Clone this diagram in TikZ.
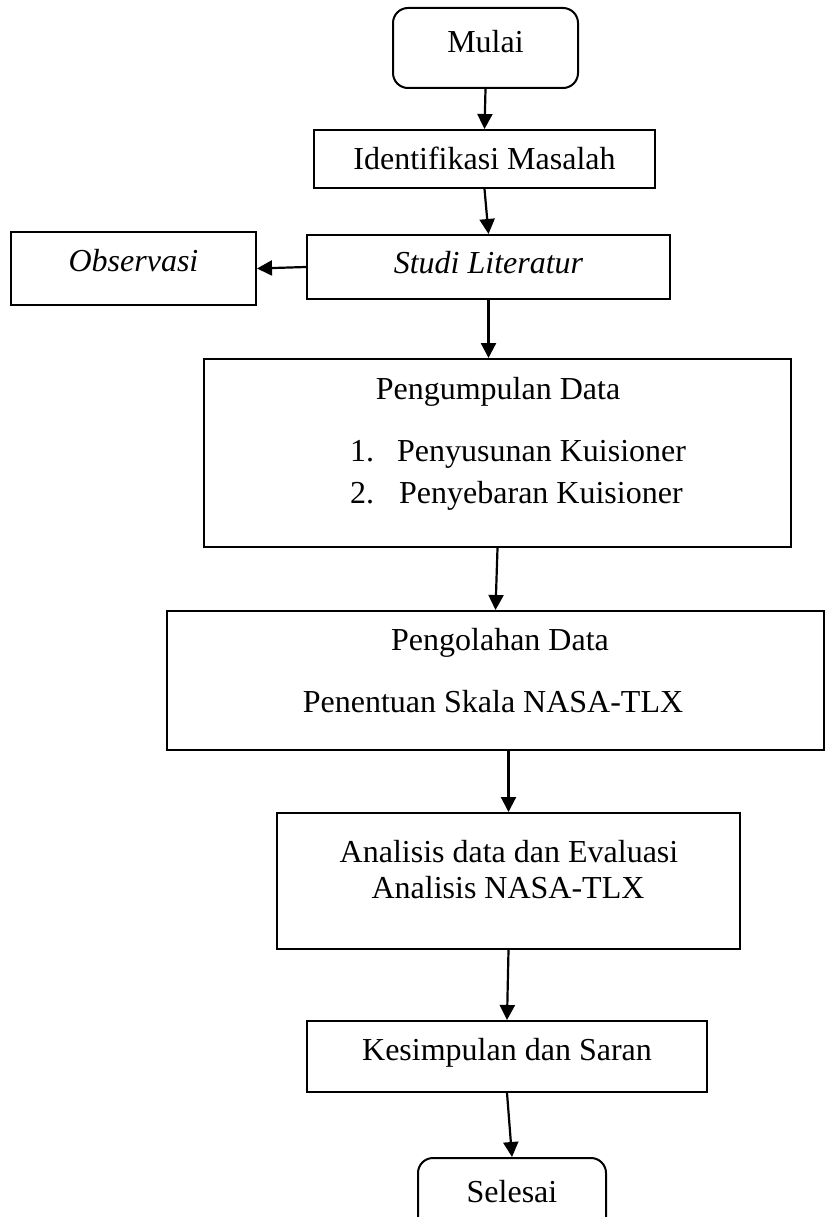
\documentclass[tikz,border=0pt]{standalone}
\usepackage{fontspec}
\setmainfont{Liberation Serif}
\usetikzlibrary{arrows.meta}
\tikzset{
  box/.style={draw, rectangle, line width=2pt, inner sep=0pt},
  terminal/.style={box, rounded corners=15pt},
  txt/.style={inner sep=0pt, anchor=base},
  flowarrow/.style={-{Triangle[width=15pt,length=15pt]}, line width=2.2pt}
}
\newcommand{\flowto}[2]{
  \draw [flowarrow,color=black] (#1) to (#2)
}

\begin{document}
\begin{tikzpicture}[x=1pt,y=-1pt,font=\fontsize{32}{38}\selectfont]
\clip (0,0) rectangle (825,1217);

% start
\node[terminal, minimum width=185pt, minimum height=80pt] (mulai) at (485.5,48) {};
\node[txt] (mulaiT) at (485.5,53) {Mulai};

% identifikasi
\node[box, minimum width=341pt, minimum height=58pt] (ident) at (484.5,159) {};
\node[txt] (identT) at (484.5,170) {Identifikasi Masalah};

% studi literatur and observasi
\node[box, minimum width=363pt, minimum height=64pt] (studi) at (488.5,267) {};
\node[txt] (studiT) at (488.5,273) {\textit{Studi Literatur}};
\node[box, minimum width=245pt, minimum height=73pt] (obs) at (133.5,268.5) {};
\node[txt] (obsT) at (133.5,271) {\textit{Observasi}};

% pengumpulan data
\node[box, minimum width=587pt, minimum height=188pt] (kumpul) at (497.5,453) {};
\node[txt] (kumpulT) at (498,399) {Pengumpulan Data};
\node[txt, anchor=base west] (item1) at (350,461) {1.};
\node[txt, anchor=base west] (item1T) at (397,461) {Penyusunan Kuisioner};
\node[txt, anchor=base west] (item2) at (350,503) {2.};
\node[txt, anchor=base west] (item2T) at (399,503) {Penyebaran Kuisioner};

% pengolahan data
\node[box, minimum width=657pt, minimum height=139pt] (olah) at (495.5,680.5) {};
\node[txt] (olahT) at (500,650) {Pengolahan Data};
\node[txt] (olahS) at (493,712) {Penentuan Skala NASA-TLX};

% analisis
\node[box, minimum width=463pt, minimum height=136pt] (anal) at (508.5,881) {};
\node[txt] (analT) at (509,862) {Analisis data dan Evaluasi};
\node[txt] (analS) at (508,898) {Analisis NASA-TLX};

% kesimpulan
\node[box, minimum width=400pt, minimum height=71pt] (simpul) at (507,1056.5) {};
\node[txt] (simpulT) at (507,1060) {Kesimpulan dan Saran};

% end
\node[terminal, minimum width=188pt, minimum height=82pt] (selesai) at (512,1199) {};
\node[txt] (selesaiT) at (512,1202) {Selesai};

% arrows
\flowto{mulai.south}{ident.north};
\flowto{ident.south}{studi.north};
\flowto{studi.west}{obs.east};
\flowto{studi.south}{studi.south |- kumpul.north};
\flowto{kumpul.south}{olah.north};
\flowto{anal.north |- olah.south}{anal.north};
\flowto{anal.south}{simpul.north};
\flowto{simpul.south}{selesai.north};

\end{tikzpicture}
\end{document}
